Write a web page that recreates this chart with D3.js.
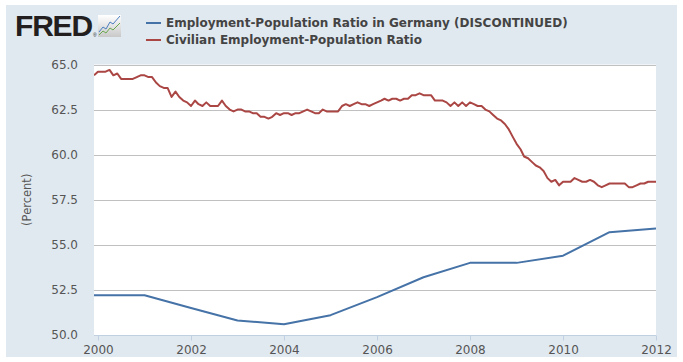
<!DOCTYPE html>
<html>
<head>
<meta charset="utf-8">
<script src="https://cdn.jsdelivr.net/npm/d3@7"></script>
<style>
  body { margin: 0; background: #fff; }
  svg { display: block; font-family: "DejaVu Sans", Verdana, sans-serif; }
</style>
</head>
<body>
<div id="chart"></div>
<script>
// Civilian Employment-Population Ratio, monthly, starting Dec 1999
var civilianStart = new Date(1999, 11, 1);
var civilianRatio = [
  64.4,
  64.6, 64.6, 64.6, 64.7, 64.4, 64.5, 64.2, 64.2, 64.2, 64.2, 64.3, 64.4,
  64.4, 64.3, 64.3, 64.0, 63.8, 63.7, 63.7, 63.2, 63.5, 63.2, 63.0, 62.9,
  62.7, 63.0, 62.8, 62.7, 62.9, 62.7, 62.7, 62.7, 63.0, 62.7, 62.5, 62.4,
  62.5, 62.5, 62.4, 62.4, 62.3, 62.3, 62.1, 62.1, 62.0, 62.1, 62.3, 62.2,
  62.3, 62.3, 62.2, 62.3, 62.3, 62.4, 62.5, 62.4, 62.3, 62.3, 62.5, 62.4,
  62.4, 62.4, 62.4, 62.7, 62.8, 62.7, 62.8, 62.9, 62.8, 62.8, 62.7, 62.8,
  62.9, 63.0, 63.1, 63.0, 63.1, 63.1, 63.0, 63.1, 63.1, 63.3, 63.3, 63.4,
  63.3, 63.3, 63.3, 63.0, 63.0, 63.0, 62.9, 62.7, 62.9, 62.7, 62.9, 62.7,
  62.9, 62.8, 62.7, 62.7, 62.5, 62.4, 62.2, 62.0, 61.9, 61.7, 61.4, 61.0,
  60.6, 60.3, 59.9, 59.8, 59.6, 59.4, 59.3, 59.1, 58.7, 58.5, 58.6, 58.3,
  58.5, 58.5, 58.5, 58.7, 58.6, 58.5, 58.5, 58.6, 58.5, 58.3, 58.2, 58.3,
  58.4, 58.4, 58.4, 58.4, 58.4, 58.2, 58.2, 58.3, 58.4, 58.4, 58.5, 58.5,
  58.5
];

// Employment-Population Ratio in Germany, annual
var germanyYears = [1999, 2000, 2001, 2002, 2003, 2004, 2005, 2006, 2007, 2008, 2009, 2010, 2011, 2012];
var germanyRatio = [52.2, 52.2, 52.2, 51.5, 50.8, 50.6, 51.1, 52.1, 53.2, 54.0, 54.0, 54.4, 55.7, 55.9];

var seriesNames = ["Employment-Population Ratio in Germany (DISCONTINUED)", "Civilian Employment-Population Ratio"];
var seriesColors = ["#4572a7", "#aa4643"];
var yTicks = [50, 52.5, 55, 57.5, 60, 62.5, 65];
var xTickYears = [2000, 2002, 2004, 2006, 2008, 2010, 2012];

var width = 683, height = 362;
var margin = { left: 94, right: 26, top: 64.5, bottom: 27 };

var civilian = civilianRatio.map(function (v, i) {
  return { date: d3.timeMonth.offset(civilianStart, i), value: v };
});
var germany = germanyYears.map(function (y, i) {
  return { date: new Date(y, 0, 1), value: germanyRatio[i] };
});

var x = d3.scaleTime()
  .domain([new Date(1999, 11, 1), new Date(2012, 0, 1)])
  .range([margin.left, width - margin.right - 1]);
var y = d3.scaleLinear()
  .domain([50, 65])
  .range([height - margin.bottom, margin.top]);

var svg = d3.select('#chart').append('svg')
  .attr('width', width)
  .attr('height', height);

// outer panel
svg.append('rect')
  .attr('x', 6).attr('y', 5)
  .attr('width', 671).attr('height', 352)
  .attr('fill', '#e1e9f0');

// plot area
svg.append('rect')
  .attr('x', x.range()[0]).attr('y', y(65))
  .attr('width', x.range()[1] - x.range()[0])
  .attr('height', y(50) - y(65))
  .attr('fill', '#fff');

svg.append('clipPath').attr('id', 'plotclip')
  .append('rect')
  .attr('x', x.range()[0]).attr('y', y(65) - 5)
  .attr('width', x.range()[1] - x.range()[0])
  .attr('height', y(50) - y(65) + 10);

// grid lines
svg.append('g').selectAll('line')
  .data(yTicks.slice(1))
  .enter().append('line')
  .attr('x1', x.range()[0]).attr('x2', x.range()[1])
  .attr('y1', function (d) { return Math.round(y(d)) + 0.5; })
  .attr('y2', function (d) { return Math.round(y(d)) + 0.5; })
  .attr('stroke', '#c0c0c0')
  .attr('stroke-width', 1);

// y axis labels
var yAxis = d3.axisLeft(y)
  .tickValues(yTicks)
  .tickSize(0)
  .tickPadding(0)
  .tickFormat(d3.format('.1f'));
var yg = svg.append('g')
  .attr('transform', 'translate(' + (margin.left - 16) + ',0)')
  .call(yAxis);
yg.select('.domain').remove();
yg.selectAll('text')
  .attr('fill', '#555')
  .style('font-size', '12px')
  .style('font-family', '"DejaVu Sans", Verdana, sans-serif');

// x axis
var xAxis = d3.axisBottom(x)
  .tickValues(xTickYears.map(function (yr) { return new Date(yr, 0, 1); }))
  .tickSize(5)
  .tickPadding(5)
  .tickFormat(d3.timeFormat('%Y'));
var xg = svg.append('g')
  .attr('transform', 'translate(0,' + (Math.round(y(50)) + 0.5) + ')')
  .call(xAxis);
xg.select('.domain')
  .attr('stroke', '#c0d0e0')
  .attr('d', 'M' + x.range()[0] + ',0H' + x.range()[1]);
xg.selectAll('line').attr('stroke', '#c0d0e0');
xg.selectAll('text')
  .attr('fill', '#555')
  .style('font-size', '12px')
  .style('font-family', '"DejaVu Sans", Verdana, sans-serif');

// y axis title
svg.append('text')
  .attr('transform', 'translate(31,' + (y(57.5)) + ') rotate(-90)')
  .attr('text-anchor', 'middle')
  .attr('fill', '#555')
  .style('font-size', '11.5px')
  .text('(Percent)');

// lines
var line = d3.line()
  .x(function (d) { return x(d.date); })
  .y(function (d) { return y(d.value); });

var lines = svg.append('g').attr('clip-path', 'url(#plotclip)');
lines.append('path')
  .datum(germany)
  .attr('d', line)
  .attr('fill', 'none')
  .attr('stroke', seriesColors[0])
  .attr('stroke-width', 2)
  .attr('stroke-linejoin', 'round');
lines.append('path')
  .datum(civilian)
  .attr('d', line)
  .attr('fill', 'none')
  .attr('stroke', seriesColors[1])
  .attr('stroke-width', 2)
  .attr('stroke-linejoin', 'round');

// legend
var legend = svg.append('g').selectAll('g')
  .data(seriesNames)
  .enter().append('g')
  .attr('transform', function (d, i) { return 'translate(146,' + (23 + i * 17) + ')'; });
legend.append('line')
  .attr('x1', 0).attr('x2', 15)
  .attr('stroke', function (d, i) { return seriesColors[i]; })
  .attr('stroke-width', 2);
legend.append('text')
  .attr('x', 20)
  .attr('dy', '0.35em')
  .attr('fill', '#444')
  .style('font-size', '12px')
  .style('font-weight', 'bold')
  .text(function (d) { return d; });

// FRED logo
var logo = svg.append('g');
logo.append('text')
  .attr('x', 15).attr('y', 36)
  .attr('fill', '#231f20')
  .style('font-family', '"Liberation Sans", Arial, sans-serif')
  .style('font-weight', 'bold')
  .style('font-size', '30px')
  .style('letter-spacing', '-1.2px')
  .text('FRED');
logo.append('text')
  .attr('x', 93).attr('y', 37)
  .attr('fill', '#231f20')
  .style('font-family', '"Liberation Sans", Arial, sans-serif')
  .style('font-size', '5px')
  .text('®');

var grad = svg.append('defs').append('linearGradient')
  .attr('id', 'iconbg').attr('x1', 0).attr('y1', 0).attr('x2', 0).attr('y2', 1);
grad.append('stop').attr('offset', '0%').attr('stop-color', '#ffffff');
grad.append('stop').attr('offset', '100%').attr('stop-color', '#c8c8c8');
logo.append('rect')
  .attr('x', 98).attr('y', 15).attr('width', 23).attr('height', 22)
  .attr('fill', 'url(#iconbg)');
var iconLine = d3.line();
logo.append('path')
  .attr('d', iconLine([[99, 32], [103, 27], [106, 29], [110, 22], [113, 24], [120, 16]]))
  .attr('fill', 'none').attr('stroke', '#4a7fc0').attr('stroke-width', 1);
logo.append('path')
  .attr('d', iconLine([[99, 35], [103, 31], [106, 33], [110, 28], [113, 30], [120, 23]]))
  .attr('fill', 'none').attr('stroke', '#6aa84f').attr('stroke-width', 1);
</script>
</body>
</html>
